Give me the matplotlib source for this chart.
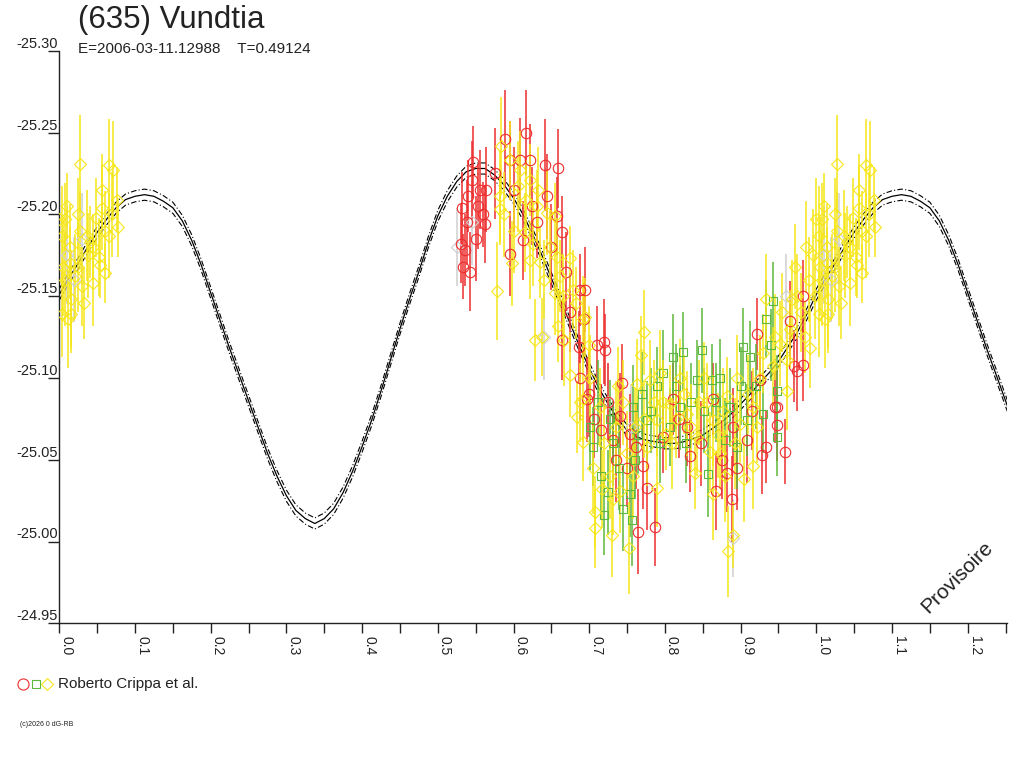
import numpy as np
import matplotlib
matplotlib.use("Agg")
import matplotlib.pyplot as plt
from matplotlib.lines import Line2D

plt.rcParams['font.family'] = ['Liberation Sans', 'DejaVu Sans']
plt.rcParams['axes.unicode_minus'] = False

# ---------------- data ----------------
title = "(635) Vundtia"
subtitle = "E=2006-03-11.12988    T=0.49124"
legend_label = "Roberto Crippa et al."
copyright_text = "(c)2026 0 dG-RB"
watermark = "Provisoire"

x_ticks = [0.0, 0.1, 0.2, 0.3, 0.4, 0.5, 0.6, 0.7, 0.8, 0.9, 1.0, 1.1, 1.2]
y_ticks = [-25.30, -25.25, -25.20, -25.15, -25.10, -25.05, -25.00, -24.95]

# model light curve, phase 0.0000 .. 1.0000 step 0.0125
model_phase = [0.0000, 0.0125, 0.0250, 0.0375, 0.0500, 0.0625, 0.0750, 0.0875, 0.1000, 0.1125,
               0.1250, 0.1375, 0.1500, 0.1625, 0.1750, 0.1875, 0.2000, 0.2125, 0.2250, 0.2375,
               0.2500, 0.2625, 0.2750, 0.2875, 0.3000, 0.3125, 0.3250, 0.3375, 0.3500, 0.3625,
               0.3750, 0.3875, 0.4000, 0.4125, 0.4250, 0.4375, 0.4500, 0.4625, 0.4750, 0.4875,
               0.5000, 0.5125, 0.5250, 0.5375, 0.5500, 0.5625, 0.5750, 0.5875, 0.6000, 0.6125,
               0.6250, 0.6375, 0.6500, 0.6625, 0.6750, 0.6875, 0.7000, 0.7125, 0.7250, 0.7375,
               0.7500, 0.7625, 0.7750, 0.7875, 0.8000, 0.8125, 0.8250, 0.8375, 0.8500, 0.8625,
               0.8750, 0.8875, 0.9000, 0.9125, 0.9250, 0.9375, 0.9500, 0.9625, 0.9750, 0.9875,
               1.0000]
model_mag = [-25.151, -25.161, -25.170, -25.180, -25.189, -25.197, -25.204, -25.209, -25.211, -25.212,
             -25.211, -25.208, -25.204, -25.196, -25.184, -25.169, -25.152, -25.135, -25.118, -25.102,
             -25.086, -25.070, -25.054, -25.040, -25.028, -25.019, -25.014, -25.011, -25.014, -25.020,
             -25.030, -25.043, -25.058, -25.074, -25.092, -25.111, -25.130, -25.148, -25.165, -25.183,
             -25.199, -25.211, -25.220, -25.226, -25.228, -25.228, -25.224, -25.218, -25.210, -25.200,
             -25.188, -25.175, -25.161, -25.147, -25.133, -25.119, -25.106, -25.094, -25.084, -25.075,
             -25.068, -25.064, -25.062, -25.061, -25.060, -25.060, -25.061, -25.063, -25.065, -25.069,
             -25.073, -25.078, -25.084, -25.090, -25.097, -25.103, -25.110, -25.119, -25.128, -25.139,
             -25.151]
model_err = 0.0034

red_phase = [0.547, 0.589, 0.6165, 0.6416, 0.659, 0.545, 0.564, 0.5315, 0.560, 0.562,
             0.551, 0.536, 0.533, 0.595, 0.609, 0.622, 0.556, 0.540, 0.644, 0.657,
             0.664, 0.595, 0.613, 0.631, 0.670, 0.688, 0.694, 0.531, 0.664, 0.686,
             0.688, 0.710, 0.693, 0.7195, 0.721, 0.743, 0.697, 0.833, 0.776, 0.787,
             0.765, 0.921, 0.948, 0.948, 0.958, 0.928, 0.934, 0.888, 0.868, 0.864,
             0.926, 0.970, 0.741, 0.754, 0.811, 0.890, 0.908, 0.732, 0.771, 0.882,
             0.798, 0.829, 0.983, 0.974, 0.983, 0.965, 0.945,
             0.700, 0.706, 0.715, 0.725, 0.735, 0.750, 0.762, 0.818, 0.848, 0.875,
             0.895, 0.915, 0.538, 0.543, 0.553, 0.575, 0.600, 0.625, 0.650, 0.675]
red_mag = [-25.232, -25.246, -25.250, -25.230, -25.228, -25.221, -25.215, -25.204, -25.200, -25.194,
           -25.185, -25.178, -25.168, -25.233, -25.233, -25.233, -25.215, -25.211, -25.211, -25.199,
           -25.189, -25.176, -25.184, -25.195, -25.165, -25.154, -25.154, -25.182, -25.123, -25.119,
           -25.100, -25.120, -25.136, -25.122, -25.117, -25.097, -25.087, -25.052, -25.033, -25.009,
           -25.006, -25.127, -25.082, -25.071, -25.055, -25.053, -25.058, -25.026, -25.031, -25.087,
           -25.099, -25.107, -25.077, -25.066, -25.087, -25.070, -25.062, -25.062, -25.046, -25.042,
           -25.064, -25.070, -25.150, -25.104, -25.108, -25.135, -25.082,
           -25.090, -25.075, -25.068, -25.085, -25.050, -25.045, -25.058, -25.075, -25.060, -25.050,
           -25.045, -25.080, -25.195, -25.165, -25.205, -25.225, -25.215, -25.205, -25.180, -25.140]
red_err = [0.022, 0.030, 0.026, 0.028, 0.024, 0.024, 0.026, 0.022, 0.020, 0.024,
           0.026, 0.022, 0.020, 0.024, 0.026, 0.022, 0.024, 0.022, 0.026, 0.024,
           0.022, 0.026, 0.024, 0.022, 0.024, 0.022, 0.026, 0.024, 0.024, 0.022,
           0.026, 0.024, 0.022, 0.026, 0.022, 0.024, 0.026, 0.022, 0.026, 0.024,
           0.026, 0.022, 0.024, 0.022, 0.020, 0.024, 0.022, 0.026, 0.024, 0.022,
           0.024, 0.022, 0.026, 0.024, 0.022, 0.024, 0.026, 0.024, 0.026, 0.024,
           0.022, 0.024, 0.022, 0.024, 0.022, 0.024, 0.022,
           0.026, 0.024, 0.028, 0.024, 0.026, 0.024, 0.026, 0.024, 0.026, 0.024,
           0.026, 0.024, 0.026, 0.024, 0.026, 0.028, 0.026, 0.024, 0.026, 0.024]

green_phase = [0.701, 0.719, 0.745, 0.756, 0.811, 0.824, 0.849, 0.873, 0.862, 0.903,
               0.912, 0.934, 0.948, 0.948, 0.857, 0.705, 0.732, 0.789, 0.798, 0.842,
               0.820, 0.776, 0.758, 0.886, 0.908, 0.930, 0.895, 0.807, 0.754, 0.943,
               0.940, 0.770, 0.835, 0.715, 0.760,
               0.712, 0.728, 0.740, 0.765, 0.782, 0.793, 0.815, 0.828, 0.852, 0.868,
               0.880, 0.900, 0.920, 0.725]
green_mag = [-25.070, -25.016, -25.020, -25.013, -25.113, -25.116, -25.117, -25.100, -25.099, -25.119,
             -25.113, -25.136, -25.092, -25.064, -25.041, -25.058, -25.060, -25.095, -25.103, -25.099,
             -25.082, -25.074, -25.082, -25.082, -25.074, -25.078, -25.058, -25.070, -25.029, -25.147,
             -25.120, -25.090, -25.085, -25.040, -25.050,
             -25.085, -25.075, -25.045, -25.065, -25.080, -25.060, -25.095, -25.060, -25.080, -25.085,
             -25.062, -25.095, -25.095, -25.030]
green_err = [0.026, 0.024, 0.026, 0.028, 0.026, 0.024, 0.026, 0.024, 0.022, 0.024,
             0.022, 0.024, 0.022, 0.024, 0.026, 0.024, 0.026, 0.024, 0.026, 0.024,
             0.026, 0.024, 0.026, 0.024, 0.022, 0.024, 0.026, 0.024, 0.026, 0.024,
             0.022, 0.026, 0.024, 0.026, 0.024,
             0.026, 0.024, 0.026, 0.024, 0.026, 0.024, 0.026, 0.024, 0.026, 0.024,
             0.026, 0.024, 0.026, 0.026]

yellow_phase = [0.027, 0.065, 0.071, 0.056, 0.010, 0.000, 0.025, 0.049, 0.056, 0.076,
                0.078, 0.003, 0.014, 0.027, 0.036, 0.041, 0.065, 0.052, 0.005, 0.014,
                0.025, 0.054, 0.060, 0.045, 0.030, 0.016, 0.032, 0.003, 0.012, 0.016,
                0.045, 0.021, 0.0075,
                0.584, 0.595, 0.582, 0.582, 0.587, 0.609, 0.622, 0.633, 0.606, 0.617,
                0.631, 0.644, 0.655, 0.598, 0.622, 0.635, 0.578, 0.615, 0.626, 0.648,
                0.657, 0.675, 0.661, 0.679, 0.655, 0.683,
                0.628, 0.637, 0.659, 0.675, 0.688, 0.684, 0.667, 0.694,
                0.772, 0.769, 0.934, 0.961, 0.692, 0.692, 0.708, 0.708, 0.730, 0.752,
                0.840, 0.890, 0.884, 0.789, 0.741, 0.717, 0.732, 0.794, 0.780, 0.763,
                0.820, 0.851, 0.895, 0.882, 0.864, 0.917, 0.952, 0.961, 0.9675, 0.701,
                0.714, 0.736, 0.750, 0.776, 0.802, 0.829, 0.842, 0.873, 0.899, 0.917,
                0.921, 0.943, 0.692, 0.807, 0.789, 0.904, 0.864,
                0.972, 0.987, 0.992, 0.975, 0.980, 0.990, 0.995, 0.965, 0.985, 0.955, 0.998,
                0.745, 0.760, 0.785, 0.810, 0.825, 0.835, 0.855, 0.870, 0.880, 0.910,
                0.925, 0.720, 0.700,
                0.705, 0.727, 0.738, 0.758, 0.772, 0.798, 0.815, 0.845, 0.860, 0.877,
                0.893, 0.930, 0.945, 0.600, 0.640, 0.665, 0.038, 0.060, 0.070, 0.008]
yellow_mag = [-25.231, -25.230, -25.227, -25.215, -25.205, -25.197, -25.200, -25.198, -25.204, -25.209,
              -25.192, -25.187, -25.180, -25.190, -25.187, -25.183, -25.187, -25.174, -25.168, -25.170,
              -25.168, -25.169, -25.164, -25.158, -25.156, -25.148, -25.146, -25.139, -25.136, -25.139,
              -25.180, -25.162, -25.197,
              -25.242, -25.233, -25.211, -25.203, -25.200, -25.227, -25.221, -25.215, -25.217, -25.209,
              -25.205, -25.201, -25.199, -25.170, -25.172, -25.171, -25.153, -25.189, -25.182, -25.180,
              -25.174, -25.173, -25.162, -25.154, -25.152, -25.146,
              -25.123, -25.125, -25.132, -25.102, -25.085, -25.076, -25.123, -25.137,
              -25.128, -25.114, -25.148, -25.092, -25.136, -25.061, -25.018, -25.008, -25.004, -24.996,
              -25.042, -25.004, -24.994, -25.033, -25.031, -25.032, -25.026, -25.103, -25.099, -25.096,
              -25.100, -25.100, -25.100, -25.089, -25.074, -25.082, -25.121, -25.111, -25.148, -25.100,
              -25.082, -25.070, -25.054, -25.058, -25.066, -25.078, -25.064, -25.054, -25.072, -25.046,
              -25.070, -25.107, -25.087, -25.084, -25.074, -25.038, -25.029,
              -25.168, -25.180, -25.118, -25.150, -25.140, -25.160, -25.175, -25.130, -25.125, -25.140, -25.150,
              -25.085, -25.070, -25.085, -25.060, -25.090, -25.070, -25.085, -25.065, -25.040, -25.090,
              -25.100, -25.060, -25.120,
              -25.045, -25.040, -25.095, -25.040, -25.075, -25.085, -25.075, -25.085, -25.055, -25.080,
              -25.060, -25.115, -25.125, -25.190, -25.160, -25.150, -25.175, -25.190, -25.200, -25.160]
yellow_err = [0.030, 0.028, 0.030, 0.022, 0.020, 0.025, 0.022, 0.024, 0.026, 0.020,
              0.018, 0.030, 0.026, 0.024, 0.028, 0.022, 0.026, 0.024, 0.030, 0.022,
              0.028, 0.020, 0.018, 0.026, 0.024, 0.030, 0.022, 0.026, 0.030, 0.024,
              0.020, 0.026, 0.022,
              0.030, 0.024, 0.028, 0.022, 0.026, 0.024, 0.022, 0.026, 0.028, 0.024,
              0.022, 0.026, 0.020, 0.026, 0.024, 0.022, 0.030, 0.024, 0.026, 0.022,
              0.024, 0.020, 0.022, 0.024, 0.026, 0.022,
              0.025, 0.024, 0.022, 0.026, 0.024, 0.022, 0.028, 0.024,
              0.026, 0.024, 0.028, 0.024, 0.026, 0.024, 0.022, 0.024, 0.026, 0.028,
              0.022, 0.020, 0.028, 0.024, 0.026, 0.024, 0.022, 0.026, 0.024, 0.028,
              0.024, 0.022, 0.026, 0.024, 0.028, 0.024, 0.026, 0.022, 0.024, 0.026,
              0.024, 0.028, 0.026, 0.024, 0.022, 0.026, 0.024, 0.022, 0.024, 0.026,
              0.022, 0.024, 0.026, 0.024, 0.022, 0.026, 0.028,
              0.026, 0.028, 0.024, 0.026, 0.024, 0.026, 0.028, 0.024, 0.022, 0.024, 0.026,
              0.026, 0.024, 0.026, 0.028, 0.024, 0.026, 0.024, 0.026, 0.028, 0.024,
              0.026, 0.028, 0.024,
              0.028, 0.026, 0.024, 0.026, 0.024, 0.026, 0.024, 0.026, 0.024, 0.026,
              0.028, 0.024, 0.026, 0.026, 0.024, 0.026, 0.026, 0.024, 0.026, 0.028]

gray_phase = [0.010, 0.020, 0.030, 0.525, 0.545, 0.640, 0.725, 0.755, 0.890, 0.960]
gray_mag = [-25.175, -25.160, -25.185, -25.180, -25.195, -25.125, -25.085, -25.070, -25.002, -25.150]
gray_err = [0.030, 0.026, 0.028, 0.024, 0.026, 0.026, 0.024, 0.026, 0.024, 0.026]

# ---------------- styling ----------------
RED = '#ee2d2d'
GREEN = '#5cb83c'
YELLOW = '#f6e619'
GRAY = '#cfcfcf'
INK = '#222222'


def folded(p, m, e):
    p = np.asarray(p, float)
    m = np.asarray(m, float)
    e = np.asarray(e, float)
    return np.concatenate([p, p + 1]), np.concatenate([m, m]), np.concatenate([e, e])


fig = plt.figure(figsize=(10.24, 7.68), dpi=100)
ax = fig.add_axes([59.3 / 1024, 1 - 623.3 / 768, (1007.3 - 59.3) / 1024, (623.3 - 50.7) / 768])

# model curve (shown over 1.25 cycles), drawn beneath the data
mp = np.concatenate([np.asarray(model_phase), np.asarray(model_phase[1:22]) + 1])
mm = np.concatenate([np.asarray(model_mag), np.asarray(model_mag[1:22])])
ax.plot(mp, mm, color='black', lw=0.9, zorder=1)
ax.plot(mp, mm - model_err, color='black', lw=0.8, ls=(0, (5, 2, 1, 2)), zorder=1)
ax.plot(mp, mm + model_err, color='black', lw=0.8, ls=(0, (5, 2, 1, 2)), zorder=1)

series = [
    (gray_phase, gray_mag, gray_err, GRAY, 'D', 6.0),
    (red_phase, red_mag, red_err, RED, 'o', 7.5),
    (green_phase, green_mag, green_err, GREEN, 's', 6.0),
    (yellow_phase, yellow_mag, yellow_err, YELLOW, 'D', 6.0),
]
for p, m, e, c, mk, ms in series:
    P, M, E = folded(p, m, e)
    ax.errorbar(P, M, yerr=E, fmt='none', ecolor=c, elinewidth=1.1, capsize=0, zorder=2)
    ax.plot(P, M, linestyle='none', marker=mk, markersize=ms, markerfacecolor='none',
            markeredgecolor=c, markeredgewidth=0.8, zorder=3)

ax.set_xlim(0, 1.2523)
ax.set_ylim(-24.95, -25.30)

for s in ['top', 'right']:
    ax.spines[s].set_visible(False)
for s in ['left', 'bottom']:
    ax.spines[s].set_color(INK)
    ax.spines[s].set_linewidth(1.0)

ax.set_xticks(x_ticks)
ax.set_xticks([0.05, 0.15, 0.25, 0.35, 0.45, 0.55, 0.65, 0.75, 0.85, 0.95, 1.05, 1.15, 1.25], minor=True)
ax.set_xticklabels(['%.1f' % v for v in x_ticks], rotation=-90, ha='left', va='top',
                   fontsize=10, color=INK)
ax.tick_params(axis='x', which='both', direction='out', length=7, width=1, color=INK, pad=2)

ax.set_yticks(y_ticks)
ax.set_yticklabels(['%.2f' % v for v in y_ticks], fontsize=10.5, color=INK, va='bottom')
ax.tick_params(axis='y', which='major', direction='out', length=8, width=1, color=INK, pad=-7)

# texts
fig.text(78 / 1024, 1 - 20 / 768, title, fontsize=22.5, color=INK, va='center', ha='left')
fig.text(78 / 1024, 1 - 49 / 768, subtitle, fontsize=11, color=INK, va='center', ha='left')
fig.text(957 / 1024, 1 - 577 / 768, watermark, fontsize=15, color=INK, rotation=45,
         ha='center', va='center')

# legend
ly = 1 - 684 / 768
fig.add_artist(Line2D([23 / 1024], [ly], transform=fig.transFigure, marker='o', markersize=8,
                      markerfacecolor='none', markeredgecolor=RED, markeredgewidth=0.8, linestyle='none'))
fig.add_artist(Line2D([36 / 1024], [ly], transform=fig.transFigure, marker='s', markersize=6,
                      markerfacecolor='none', markeredgecolor=GREEN, markeredgewidth=0.8, linestyle='none'))
fig.add_artist(Line2D([47 / 1024], [ly], transform=fig.transFigure, marker='D', markersize=6.5,
                      markerfacecolor='none', markeredgecolor=YELLOW, markeredgewidth=0.8, linestyle='none'))
fig.text(58 / 1024, ly, legend_label, fontsize=11, color=INK, va='center', ha='left')
fig.text(20 / 1024, 1 - 725 / 768, copyright_text, fontsize=5, color=INK, va='center', ha='left')

fig.savefig('out.png', dpi=100)
